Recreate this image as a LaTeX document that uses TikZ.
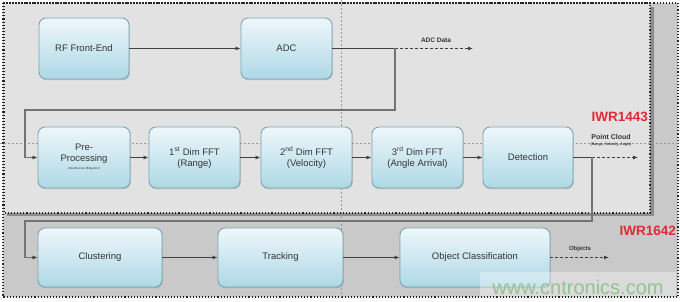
\documentclass[tikz,border=0pt]{standalone}
\usepackage{fontspec}
\setmainfont{Liberation Sans}
\usetikzlibrary{arrows.meta,shadows}
\definecolor{innerbg}{HTML}{E2E2E2}
\definecolor{outerbg}{HTML}{C9C9C9}
\definecolor{boxtop}{HTML}{EEF7FA}
\definecolor{boxbot}{HTML}{AED8E6}
\definecolor{boxline}{HTML}{7AA6B2}
\definecolor{txt}{HTML}{353535}
\definecolor{ired}{HTML}{E02A35}
\definecolor{wm}{HTML}{95C292}
\tikzset{
  blk/.style={draw=boxline, line width=0.9pt, rounded corners=7pt,
    top color=boxtop, bottom color=boxbot, text=txt, align=center,
    font=\fontsize{9.5}{11}\selectfont, inner sep=0pt,
    drop shadow={shadow xshift=0.8pt, shadow yshift=-1.2pt, opacity=0.35}},
  conn/.style={draw=black!75, line width=0.8pt, -{Latex[length=5pt,width=4pt]}},
  dconn/.style={conn, dashed, dash pattern=on 3pt off 2pt},
  feed/.style={draw=black!55, line width=1.3pt},
  guide/.style={draw=black!40, line width=0.4pt, dash pattern=on 2pt off 2pt},
  lbl/.style={font=\bfseries\fontsize{6.5}{7}\selectfont, text=txt, inner sep=0pt},
  chip/.style={font=\bfseries\fontsize{13.5}{14}\selectfont, text=ired, inner sep=0pt},
}
\begin{document}
\begin{tikzpicture}[x=1pt,y=-1pt]
\useasboundingbox (0,0) rectangle (680,302);
% regions
\fill[white] (0,0) rectangle (680,302);
\fill[outerbg] (3,3) rectangle (678,297);
\fill[black!45] (7,7) rectangle (654,216);
\fill[innerbg] (4,3) rectangle (650,213);
\draw[black!85, line width=1.1pt, dotted] (3,3) rectangle (678,297);
\draw[black!85, line width=1.1pt, dotted] (4,3) rectangle (650,213);
% guide lines
\draw[guide] (0,143) -- (680,143);
\draw[guide] (341,0) -- (341,297);
% nodes
\node[blk, minimum width=90pt, minimum height=61pt] (rf) at (84,48.5) {RF Front-End};
\node[blk, minimum width=91pt, minimum height=61pt] (adc) at (286.5,48.5) {ADC};
\node[blk, minimum width=92pt, minimum height=61pt] (pre) at (84,157.5) {Pre-\\Processing\\[-3pt]{\fontsize{3}{3}\selectfont (Interference Mitigation)}};
\node[blk, minimum width=91pt, minimum height=61pt] (f1) at (194.5,157.5) {1\textsuperscript{st} Dim FFT\\(Range)};
\node[blk, minimum width=91pt, minimum height=61pt] (f2) at (306.5,157.5) {2\textsuperscript{nd} Dim FFT\\(Velocity)};
\node[blk, minimum width=91pt, minimum height=61pt] (f3) at (417.5,157.5) {3\textsuperscript{rd} Dim FFT\\(Angle Arrival)};
\node[blk, minimum width=90pt, minimum height=61pt] (det) at (528,157.5) {Detection};
\node[blk, minimum width=124pt, minimum height=59pt] (clu) at (100,257.5) {Clustering};
\node[blk, minimum width=125pt, minimum height=59pt] (trk) at (280.5,257.5) {Tracking};
\node[blk, minimum width=150pt, minimum height=59pt] (obj) at (475,257.5) {Object Classification};
% coordinates
\coordinate (s1) at (395,48.5);
\coordinate (adcout) at (473,48.5);
\coordinate (c1) at (395,110);
\coordinate (c2) at (25,110);
\coordinate (s2) at (592,157.5);
\coordinate (pcout) at (638,157.5);
\coordinate (c3) at (592,221);
\coordinate (c4) at (25,221);
\coordinate (objout) at (609,257.5);
% connectors
\draw[conn] (rf) -- (adc);
\draw[black!75, line width=0.8pt] (adc.east) -- (s1);
\draw[dconn] (s1) -- (adcout);
\draw[feed] (s1) -- (c1) -- (c2) |- ([xshift=-6pt]pre.west);
\draw[conn] ([xshift=-6pt]pre.west) -- (pre.west);
\draw[conn] (pre) -- (f1);
\draw[conn] (f1) -- (f2);
\draw[conn] (f2) -- (f3);
\draw[conn] (f3) -- (det);
\draw[black!75, line width=0.8pt] (det.east) -- (s2);
\draw[dconn] (s2) -- (pcout);
\draw[feed] (s2) -- (c3) -- (c4) |- ([xshift=-6pt]clu.west);
\draw[conn] ([xshift=-6pt]clu.west) -- (clu.west);
\draw[conn] (clu) -- (trk);
\draw[conn] (trk) -- (obj);
\draw[dconn] (obj) -- (objout);
% labels
\node[lbl] (adclbl) at (436,40) {ADC Data};
\node[lbl, font=\bfseries\fontsize{7}{8}\selectfont] (pclbl) at (611,137) {Point Cloud};
\node[lbl, font=\bfseries\fontsize{3.6}{4}\selectfont] (pcsub) at (611,144.5) {(Range, Velocity, Angle)};
\node[lbl, font=\bfseries\fontsize{6}{7}\selectfont] (objlbl) at (580,249) {Objects};
\node[chip, anchor=east] (i1443) at (648,117) {IWR1443};
\node[chip, anchor=east] (i1642) at (676,231) {IWR1642};
% watermark
\fill[white, opacity=0.35] (480,272) rectangle (676,296);
\node[text=wm, font=\fontsize{20}{22}\selectfont, inner sep=0pt] (wmk) at (578,287) {www.cntronics.com};
\end{tikzpicture}
\end{document}
